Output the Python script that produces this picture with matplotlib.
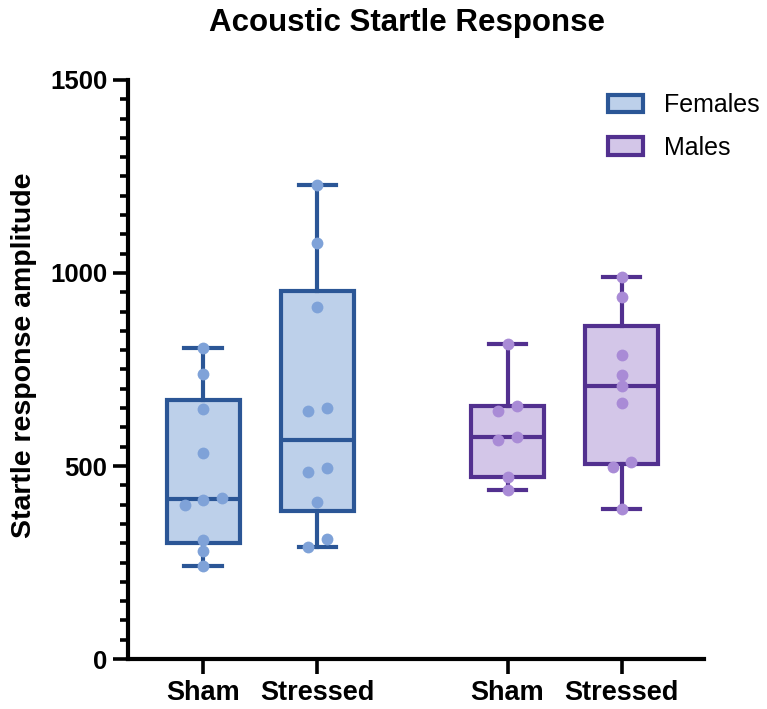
import numpy as np
import matplotlib.pyplot as plt
from matplotlib.patches import Patch

plt.rcParams["font.family"] = ["Liberation Sans", "DejaVu Sans"]

# values (individual animals)
groups = ["Sham", "Stressed", "Sham", "Stressed"]
sexes = ["Females", "Females", "Males", "Males"]
female_sham = [805, 738, 647, 533, 418, 412, 399, 308, 280, 242]
female_stressed = [1228, 1078, 913, 649, 643, 494, 484, 406, 311, 289]
male_sham = [815, 655, 643, 576, 567, 472, 438]
male_stressed = [989, 939, 788, 736, 707, 664, 511, 498, 389]
series = [female_sham, female_stressed, male_sham, male_stressed]

positions = [0, 1, 2.667, 3.667]
edge = {"Females": "#2B5696", "Males": "#52308F"}
fill = {"Females": "#BDD0EA", "Males": "#D3C6E8"}
dots = {"Females": "#7FA2D8", "Males": "#A98BD6"}


def prism_stats(vals):
    v = np.sort(np.asarray(vals, dtype=float))
    q1, med, q3 = np.percentile(v, [25, 50, 75], method="weibull")
    return dict(med=med, q1=q1, q3=q3, whislo=v.min(), whishi=v.max(), fliers=[])


def swarm_offsets(vals, gap=25, step=0.16):
    order = np.argsort(vals)
    v = np.asarray(vals, dtype=float)[order]
    offs = np.zeros(len(v))
    start = 0
    for i in range(1, len(v) + 1):
        if i == len(v) or v[i] - v[i - 1] >= gap:
            n = i - start
            offs[start:i] = (np.arange(n) - (n - 1) / 2) * step
            start = i
    out = np.zeros(len(v))
    out[order] = offs
    return out


fig = plt.figure(figsize=(7.67, 7.09), dpi=100)
ax = fig.add_axes([0.1669, 0.0705, 0.918 - 0.1669, 0.8872 - 0.0705])

for pos, vals, sex in zip(positions, series, sexes):
    stats = prism_stats(vals)
    ax.bxp([stats], positions=[pos], widths=0.64, capwidths=0.33, patch_artist=True,
           showfliers=False, manage_ticks=False,
           boxprops=dict(facecolor=fill[sex], edgecolor=edge[sex], linewidth=3),
           whiskerprops=dict(color=edge[sex], linewidth=3),
           capprops=dict(color=edge[sex], linewidth=3),
           medianprops=dict(color=edge[sex], linewidth=3))
    ax.plot(pos + swarm_offsets(vals), vals, "o", color=dots[sex], markersize=8.5,
            markeredgewidth=0, zorder=5, clip_on=False)

ax.set_xlim(-0.66, 4.39)
ax.set_ylim(0, 1500)
ax.set_yticks([0, 500, 1000, 1500])
ax.set_yticks(np.arange(0, 1501, 50), minor=True)
ax.set_xticks(positions)
ax.set_xticklabels(groups, fontsize=19.5, fontweight="bold")
for lab in ax.get_yticklabels():
    lab.set_fontsize(18.5)
    lab.set_fontweight("bold")
ax.tick_params(axis="both", which="major", length=11, width=2.6, pad=4)
ax.tick_params(axis="y", which="minor", length=6, width=2.6)
ax.tick_params(axis="x", pad=4)
for side in ["top", "right"]:
    ax.spines[side].set_visible(False)
for side in ["left", "bottom"]:
    ax.spines[side].set_linewidth(3)

ax.set_ylabel("Startle response amplitude", fontsize=20.5, fontweight="bold")
ax.yaxis.set_label_coords(-0.158, 0.525)
fig.suptitle("Acoustic Startle Response", x=0.53, y=0.968, va="center",
             fontsize=22.5, fontweight="bold")

handles = [Patch(facecolor=fill[s], edgecolor=edge[s], linewidth=3, label=s)
           for s in ["Females", "Males"]]
ax.legend(handles=handles, loc="upper right", bbox_to_anchor=(1.135, 1.016),
          frameon=False, fontsize=18, handlelength=1.4, handleheight=0.7,
          handletextpad=0.85, labelspacing=0.75)

fig.savefig("out.png", dpi=100)
